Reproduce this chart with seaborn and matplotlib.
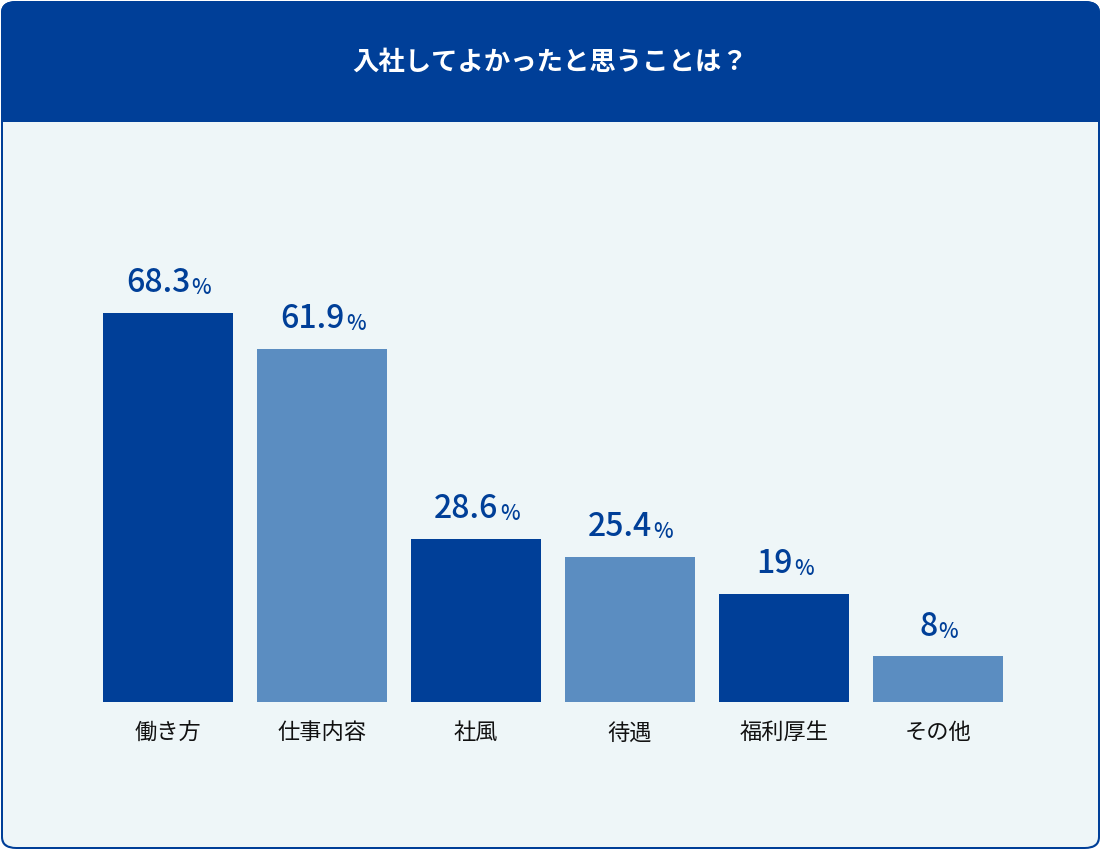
import matplotlib
matplotlib.use("Agg")
import matplotlib.pyplot as plt
import seaborn as sns
import pandas as pd
from matplotlib.patches import FancyBboxPatch, Rectangle

categories = ["働き方", "仕事内容", "社風", "待遇", "福利厚生", "その他"]
values = [68.3, 61.9, 28.6, 25.4, 19, 8]
value_labels = ["68.3", "61.9", "28.6", "25.4", "19", "8"]
title = "入社してよかったと思うことは？"

DARK = "#003F98"
LIGHT = "#5B8DC1"
BG = "#EEF6F8"
W, H = 1101, 850
FONT = "Noto Sans CJK JP"

fig = plt.figure(figsize=(W/100, H/100), dpi=100)
fig.patch.set_facecolor("white")
def fx(x): return x / W
def fy(y): return 1 - y / H

# frame
fig.patches.append(FancyBboxPatch((fx(1), fy(849)), fx(1099), 848/H,
    boxstyle="round,pad=0,rounding_size=0.014", transform=fig.transFigure,
    facecolor=DARK, edgecolor="none", zorder=0))
fig.patches.append(FancyBboxPatch((fx(3), fy(847)), fx(1095), 844/H,
    boxstyle="round,pad=0,rounding_size=0.012", transform=fig.transFigure,
    facecolor=BG, edgecolor="none", zorder=1))
fig.patches.append(Rectangle((0, fy(122)), 1, 122/H, transform=fig.transFigure,
    facecolor="none", edgecolor="none", zorder=1))
# title bar (keep top rounding from outer patch)
fig.patches.append(Rectangle((fx(1), fy(122)), fx(1099), (122-15)/H, transform=fig.transFigure,
    facecolor=DARK, edgecolor="none", zorder=2))
fig.patches.append(FancyBboxPatch((fx(1), fy(60)), fx(1099), 59/H,
    boxstyle="round,pad=0,rounding_size=0.014", transform=fig.transFigure,
    facecolor=DARK, edgecolor="none", zorder=2))
fig.text(0.5, fy(62), title, ha="center", va="center", color="white",
         fontsize=19, fontweight="bold", family=FONT, zorder=3)

# axes
left = 91; right = 1015; top = 200; base = 702
ax = fig.add_axes([fx(left), fy(base), fx(right-left), (base-top)/H])
ax.set_zorder(5)
ax.patch.set_alpha(0)
df = pd.DataFrame({"cat": categories, "val": values})
colors = [DARK if i % 2 == 0 else LIGHT for i in range(len(categories))]
sns.barplot(data=df, x="cat", y="val", hue="cat", palette=colors, legend=False,
            width=130/154, saturation=1, ax=ax)
ax.set_xlim(-0.5, 5.5)
ax.set_ylim(0, (base-top)/5.7)
for s in ax.spines.values():
    s.set_visible(False)
ax.set_yticks([])
ax.set_xlabel(""); ax.set_ylabel("")
ax.tick_params(axis="x", length=0, pad=14)
for t in ax.get_xticklabels():
    t.set_fontfamily(FONT); t.set_fontsize(16); t.set_color("#111111")

fig.canvas.draw()
r = fig.canvas.get_renderer()
for i, (v, lab) in enumerate(zip(values, value_labels)):
    tn = ax.annotate(lab, (i, v), xytext=(0, 10), textcoords="offset points",
                     ha="right", va="bottom", fontsize=23, color=DARK,
                     family=FONT, fontweight="medium")
    tp = ax.annotate("%", (i, v), xytext=(0, 10), textcoords="offset points",
                     ha="left", va="bottom", fontsize=15, color=DARK,
                     family=FONT, fontweight="medium")
    nw = tn.get_window_extent(r).width
    pw = tp.get_window_extent(r).width
    off = (nw - pw) / 2 * 72 / 100
    tn.xyann = (off, 10)
    tp.xyann = (off + 1, 10)

fig.savefig("out.png", dpi=100)
